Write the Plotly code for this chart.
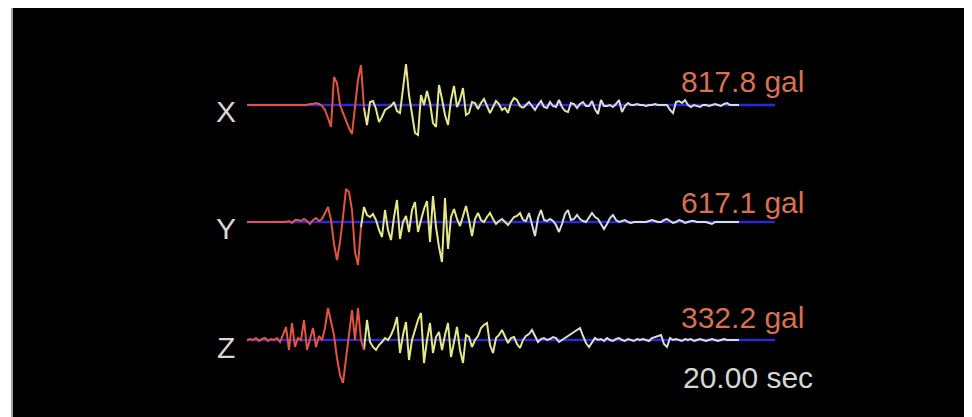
import plotly.graph_objects as go

# ---------------- data ----------------
channels = ["X", "Y", "Z"]
peak_labels = ["817.8 gal", "617.1 gal", "332.2 gal"]
duration_label = "20.00 sec"
dt = 0.1              # s per sample
window_samples = 176  # samples in the display window

# relative acceleration (X, Y, Z components)
x_wave = [0] * 21 + [
    1, 1, 2, 1, -1, -5, -13, -22,
    28, 22, 0, -8, -16, -23, -29, -5, 25, 40, -3, -20,
    3, 4, -4, -17, -12, -5, -3, -1, 3, -6, -8, 20,
    41, 10, -10, -28, -30, 10, 0, 14, 2, -18, -22, 20,
    6, -10, -20, 5, 19, -2, 5, 17, -10, -8, 3, 2,
    -4, 2, 6, -2, -8, -2, 4, 1, -5, -3, -8, 2,
    7, 5, -1, -3, 0, 3, -1, -5, 0, 4, -2, -3,
    3, -1, -2, 5, -2, -6, -7, 2, 1, -3, 1, 3,
    -1, -1, 4, -4, -9, 5, -1, -1, 0, -2, 1, 5,
    -7, -1, 2, 0,
    0, 1, 0, 0, -1, 0, 0, 1, 0, 0, 0, 0,
    -5, -8, 3, 4, 2, 5, 0, -2, 0, -1, -2, 0,
    0, -1, 0, 1, 0, -1, 1, 2, 0, 0, 0, 0,
]

y_wave = [0] * 14 + [
    1, -1, 2, 2, 1, 3, 1, -2, 2, 4, 1, 3,
    9, 15, 2, -22, -38, -20, 5, 33, 30, 12, -30, -43,
    -5, 15, 7, 5, 8, 2, -8, -15, 12, -8, -18, 5,
    22, -17, 0, 6, -10, 12, 20, -10, 2, 13, 21, -20,
    26, -5, -25, -40, 24, -27, 5, 13, 3, -4, 6, 16,
    2, -14, 3, 9, 2, 0, 5, 9, 3, -2, 1, 3,
    0, -3, 1, 5, 6, 9, 2, 1, 9, -3, -14, 4,
    12, 2, 1, 3, 1, -3, -10, -2, 8, 12, 2, 3,
    7, 3, 1, 0, 4, 9, 5, 3, -2, -7, -2, 4,
    7, 2, 0, 1, 2, 0, -1, 0, 0, 0, 0, 0,
    1, 2, 1, 0, 0, 2, 3, 1, -1, 0, 2, 1,
    -1, 0, 1, 1, 0, 0, 0, 0, -1, -2, 0, 0,
    0, 0, 0, 0, 0, 0, 0,
]

z_wave = [
    0, 1, 0, 2, -1, 1, 2, -1, 1, 0, 2, -2,
    5, 13, -10, 17, -7, 2, 0, 20, -10, 2, 12, -7,
    4, 0, 12, 32, 17, 5, -18, -35, -43, -17, 10, 30,
    0, 32, 0, -10, 20, -2, -7, -10, -5, -2, 2, 0,
    5, 12, 23, -13, 5, 18, -20, 0, 10, 20, 27, -23,
    0, 17, -13, 3, 8, -10, 5, 17, -17, 0, 13, -10,
    -23, 5, 3, -7, 0, 4, 12, 15, 17, -5, -13, 2,
    5, 10, 3, -3, 2, 3, -4, -8, 0, 4, 6, 10,
    4, -2, 1, 2, 0, 1, 3, 2, -2, 0, 2, 4,
    6, 8, 10, 12, 4, -3, -7, -2, 2, 0, 1, -1,
    2, 0, -1, 1, 2, 0, -1, 1, 0, -1, 1, 0,
    1, 0, -1, 2, 3, 4, 5, -4, -7, 2, 0, 1,
    0, -1, 1, 0, 1, -1, 0, 1, 0, -1, 0, 1,
    0, -1, 0, 1, 0, 0, 0, 0, 0,
]

# phase boundaries (sample index): P-wave end, S-wave end
p_end = [39, 38, 39]
s_end = [92, 92, 92]

# ---------------- style / layout ----------------
PAGE_W, PAGE_H = 972, 417
BODY = 8                       # default page body margin
W, H = PAGE_W - BODY, PAGE_H - BODY


def px_x(p):
    return (p - BODY) / W


def px_y(p):
    return 1 - (p - BODY) / H


RED = "#e2553f"
YELLOW = "#e6e68c"
WHITE = "#dcdcd8"
BLUE = "#2a2ad2"
SALMON = "#d9704f"
GREY = "#d6d6d6"
FONT = "Liberation Sans, Arial, sans-serif"

baselines_px = [105, 222, 340]
half_px = 50
label_y_px = [111, 228, 347]
peak_y_px = [81, 202, 317]

fig = go.Figure()
waves = [x_wave, y_wave, z_wave]
yaxis_ids = ["y", "y2", "y3"]
t_end = window_samples * dt

for k, wave in enumerate(waves):
    t = [i * dt for i in range(len(wave))]
    ya = yaxis_ids[k]
    fig.add_trace(go.Scatter(x=[0, t_end], y=[0, 0], mode="lines",
                             line=dict(color=BLUE, width=2.5),
                             xaxis="x", yaxis=ya, hoverinfo="skip"))
    segs = [(s_end[k], len(wave) - 1, WHITE),
            (p_end[k], s_end[k], YELLOW),
            (0, p_end[k], RED)]
    for a, b, c in segs:
        fig.add_trace(go.Scatter(x=t[a:b + 1], y=wave[a:b + 1], mode="lines",
                                 line=dict(color=c, width=2),
                                 xaxis="x", yaxis=ya, hoverinfo="skip"))

layout = dict(
    width=W, height=H,
    margin=dict(l=0, r=0, t=0, b=0),
    paper_bgcolor="white",
    plot_bgcolor="rgba(0,0,0,0)",
    showlegend=False,
    xaxis=dict(domain=[px_x(247), px_x(775)], range=[0, t_end], visible=False,
               fixedrange=True),
)
for k, ya in enumerate(yaxis_ids):
    lo = px_y(baselines_px[k] + half_px)
    hi = px_y(baselines_px[k] - half_px)
    key = "yaxis" if ya == "y" else "yaxis" + ya[1:]
    layout[key] = dict(domain=[lo, hi], range=[-half_px, half_px],
                       visible=False, anchor="x", fixedrange=True)
fig.update_layout(**layout)

fig.add_shape(type="rect", xref="paper", yref="paper",
              x0=px_x(12), x1=px_x(970), y0=-0.05, y1=px_y(6),
              fillcolor="black", line=dict(color="#a0a0a0", width=2),
              layer="below")

for k, name in enumerate(channels):
    fig.add_annotation(x=px_x(226), y=px_y(label_y_px[k]), xref="paper", yref="paper",
                       text=name, showarrow=False, xanchor="center", yanchor="middle",
                       font=dict(family=FONT, size=30, color=GREY))
    fig.add_annotation(x=px_x(679), y=px_y(peak_y_px[k]), xref="paper", yref="paper",
                       text=peak_labels[k], showarrow=False, xanchor="left", yanchor="middle",
                       font=dict(family=FONT, size=30, color=SALMON))

fig.add_annotation(x=px_x(681), y=px_y(377), xref="paper", yref="paper",
                   text=duration_label, showarrow=False, xanchor="left", yanchor="middle",
                   font=dict(family=FONT, size=30, color=GREY))

fig.write_html("out.html")
